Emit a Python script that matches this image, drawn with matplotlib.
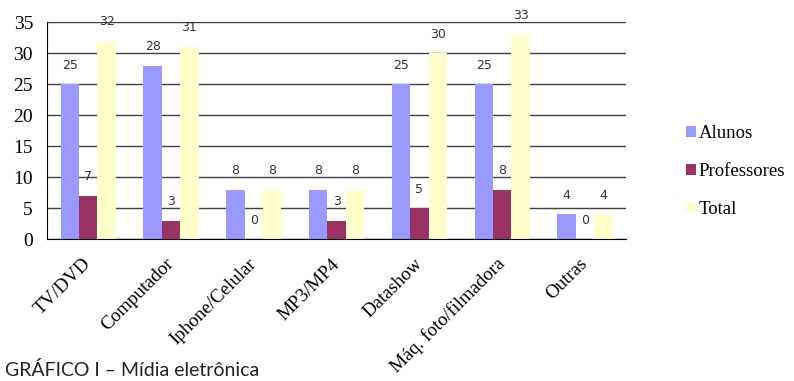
import numpy as np
import matplotlib.pyplot as plt

categorias = ["TV/DVD", "Computador", "Iphone/Celular", "MP3/MP4", "Datashow",
              "Máq. foto/filmadora", "Outras"]
alunos = [25, 28, 8, 8, 25, 25, 4]
professores = [7, 3, 0, 3, 5, 8, 0]
total = [32, 31, 8, 8, 30, 33, 4]

series = [("Alunos", alunos, "#9999FF"),
          ("Professores", professores, "#993366"),
          ("Total", total, "#FFFFCC")]

fig = plt.figure(figsize=(7.94, 3.81), dpi=100)
ax = fig.add_axes([0.059, 0.372, 0.730, 0.570])

x = np.arange(len(categorias))
w = 0.222
for i, (nome, vals, cor) in enumerate(series):
    pos = x + (i - 1) * w
    bars = ax.bar(pos, vals, w, color=cor, label=nome, zorder=2)
    for xi, v in zip(pos, vals):
        ax.annotate(str(v), (xi, v), xytext=(0, 9), textcoords="offset points",
                    ha="center", va="bottom", fontsize=9, color="#333333",
                    family="DejaVu Sans")

ax.set_xlim(-0.5, len(categorias) - 0.5)
ax.set_ylim(0, 35)
ax.set_yticks(range(0, 36, 5))
ax.yaxis.grid(True, color="#404040", linewidth=1, zorder=0)
ax.set_axisbelow(True)
for s in ["top", "right"]:
    ax.spines[s].set_visible(False)
ax.spines["left"].set_color("black")
ax.spines["bottom"].set_color("black")
ax.tick_params(axis="both", length=0)
ax.tick_params(axis="y", pad=10)
ax.tick_params(axis="x", pad=16)
ax.set_xticks(x)
ax.set_xticklabels(categorias, rotation=45, ha="right", va="center",
                   rotation_mode="anchor", family="Liberation Serif", fontsize=13.7)
for t in ax.get_yticklabels():
    t.set_family("Liberation Serif")
    t.set_fontsize(14)

leg = fig.legend(loc="center left", bbox_to_anchor=(0.843, 0.55), frameon=False,
                 prop={"family": "Liberation Serif", "size": 13.5},
                 handlelength=0.5, handleheight=0.5, handletextpad=0.15,
                 labelspacing=1.1)

fig.text(0.006, 0.012, "GRÁFICO I – Mídia eletrônica", family="Lato",
         fontsize=14, color="#222222")

fig.savefig("out.png", dpi=100)
